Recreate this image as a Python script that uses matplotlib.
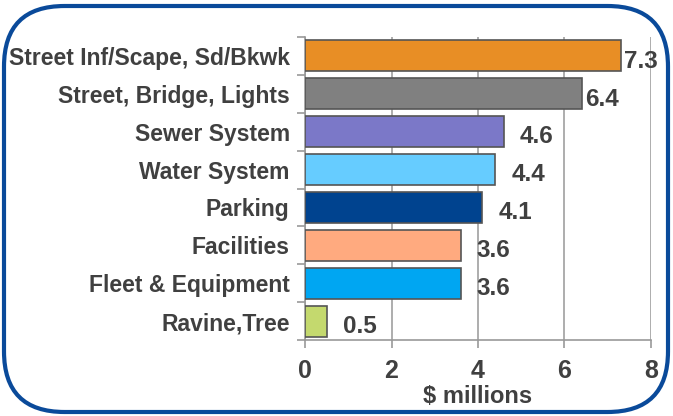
import numpy as np
import matplotlib.pyplot as plt
from matplotlib.patches import FancyBboxPatch

# categories (top to bottom) and values in $ millions
categories = ["Street Inf/Scape, Sd/Bkwk", "Street, Bridge, Lights", "Sewer System",
              "Water System", "Parking", "Facilities", "Fleet & Equipment", "Ravine,Tree"]
values = [7.3, 6.4, 4.6, 4.4, 4.1, 3.6, 3.6, 0.5]
labels = ["7.3", "6.4", "4.6", "4.4", "4.1", "3.6", "3.6", "0.5"]
colors = ["#E88E25", "#808080", "#7B78C8", "#66CCFF", "#00438F", "#FFAA7F", "#00A6F2", "#C4D96E"]

plt.rcParams['font.family'] = ['Liberation Sans', 'DejaVu Sans']
txt = "#404040"

fig = plt.figure(figsize=(6.73, 4.16), dpi=100)
ax = fig.add_axes([305/673, 1-340/416, 346/673, 303/416])

y = np.arange(len(categories))[::-1]
ax.barh(y, values, height=0.82, color=colors, edgecolor="#555555", linewidth=1.2, zorder=3)

for yi, v, lab in zip(y, values, labels):
    # labels near the right edge are pulled in closer to the bar
    off = 0.37 if v < 6 else 0.08
    ax.text(v + off, yi - 0.14, lab, va="center", ha="left", fontsize=17.5,
            fontweight="bold", color=txt, zorder=4)

ax.set_xlim(0, 8)
ax.set_ylim(-0.5, len(categories) - 0.5)
ax.set_xticks([0, 2, 4, 6, 8])
ax.set_yticks(y)
ax.set_yticklabels(categories, fontsize=16.5, fontweight="bold", color=txt)
ax.set_yticks(np.arange(len(categories) + 1) - 0.5, minor=True)
ax.tick_params(axis="y", which="major", length=0, pad=11)
ax.tick_params(axis="y", which="minor", length=6, color="#999999", width=1.2)
ax.tick_params(axis="x", length=6, color="#999999", width=1.2, labelsize=18,
               labelcolor=txt, pad=8)
for t in ax.get_xticklabels():
    t.set_fontweight("bold")
ax.set_xlabel("$ millions", fontsize=17, fontweight="bold", color=txt, labelpad=1)

ax.grid(axis="x", color="#A0A0A0", linewidth=1.2, zorder=0)
for s in ["top", "right"]:
    ax.spines[s].set_visible(False)
for s in ["left", "bottom"]:
    ax.spines[s].set_color("#999999")
    ax.spines[s].set_linewidth(1.2)

border = FancyBboxPatch((4/673, 4/416), 664/673, 406/416,
                        boxstyle="round,pad=0,rounding_size=0.09",
                        transform=fig.transFigure, fill=False,
                        edgecolor="#0A4A9A", linewidth=3, mutation_aspect=673/416)
fig.patches.append(border)

fig.savefig("out.png", dpi=100)
